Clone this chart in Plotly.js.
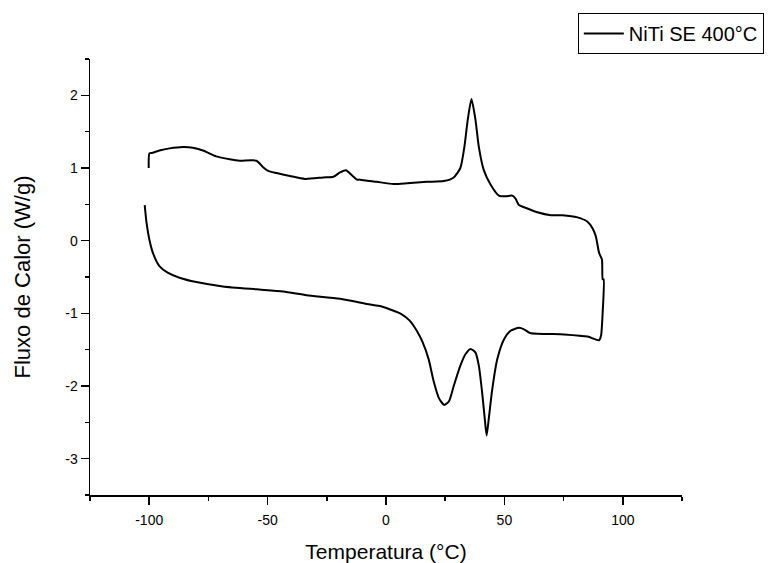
<!DOCTYPE html>
<html>
<head>
<meta charset="utf-8">
<script src="https://cdn.plot.ly/plotly-3.0.1.min.js"></script>
<style>html,body{margin:0;padding:0;background:#fff}#chart{width:777px;height:563px}</style>
</head>
<body>
<div id="chart"></div>
<script>
// Temperature (°C) along the measured loop: heating branch (bottom) then cooling branch (top)
const temperature = [
  -101.9, -101.1, -99.9, -98.2, -95.7, -92.2, -87.2, -80.1, -68.9, -54.7, -43.4, -33.5, -19.4, -6.7, -2.5, 2.0, 6.5, 10.0, 13.0, 15.5, 18.0, 20.1, 22.4, 24.6, 26.6, 28.6, 31.4, 33.6, 35.7, 37.8, 39.2, 40.6, 41.7, 42.5, 43.4, 44.9, 47.0, 49.8, 52.6, 56.1, 58.3, 60.8, 75.2, 85.1, 90.0, 90.8, 91.5, 91.9,
  91.5, 91.2, 90.0, 88.6, 87.2, 85.1, 80.9, 74.5, 69.6, 63.9, 58.3, 56.1, 54.7, 53.3, 50.5, 47.7, 44.2, 41.3, 39.2, 37.8, 36.1, 34.5, 33.1, 31.4, 28.6, 24.4, 17.3, 8.9, 3.2, -3.9, -10.9, -12.3, -14.4, -16.9, -19.4, -22.2, -26.5, -34.2, -40.6, -46.2, -49.8, -51.9, -54.7, -61.8, -66.0, -71.7, -77.3, -81.6, -85.8, -91.4, -95.7, -98.5, -99.9, -100.2
];
// Heat flow (W/g)
const heatFlow = [
  0.49, 0.24, 0.01, -0.19, -0.35, -0.44, -0.51, -0.57, -0.63, -0.67, -0.70, -0.75, -0.80, -0.88, -0.90, -0.95, -1.01, -1.10, -1.24, -1.40, -1.63, -1.93, -2.17, -2.26, -2.21, -2.00, -1.72, -1.56, -1.49, -1.54, -1.72, -2.09, -2.45, -2.68, -2.45, -2.04, -1.63, -1.36, -1.24, -1.20, -1.22, -1.27, -1.29, -1.32, -1.37, -1.31, -0.99, -0.53,
  -0.53, -0.26, -0.17, 0.06, 0.17, 0.26, 0.32, 0.35, 0.35, 0.39, 0.46, 0.49, 0.58, 0.62, 0.61, 0.62, 0.77, 0.97, 1.29, 1.66, 1.95, 1.66, 1.29, 1.00, 0.87, 0.82, 0.81, 0.79, 0.78, 0.81, 0.84, 0.84, 0.90, 0.97, 0.94, 0.88, 0.87, 0.85, 0.89, 0.93, 0.96, 1.01, 1.10, 1.10, 1.12, 1.16, 1.24, 1.28, 1.29, 1.27, 1.24, 1.21, 1.20, 1.00
];
const seriesName = 'NiTi SE 400°C';
const xTickVals = [-100, -50, 0, 50, 100];
const xTickText = ['-100', '-50', '0', '50', '100'];
const yTickVals = [-3, -2, -1, 0, 1, 2];
const yTickText = ['-3', '-2', '-1', '0', '1', '2'];
const xMinorVals = [-125, -75, -25, 25, 75, 125];
const yMinorVals = [-3.5, -2.5, -1.5, -0.5, 0.5, 1.5, 2.5];

const font = 'Arial, "Liberation Sans", sans-serif';
const axisCommon = {
  showline: true, linecolor: '#000', linewidth: 1.5,
  ticks: 'outside', ticklen: 8, tickwidth: 1.5, tickcolor: '#000',
  showgrid: false, zeroline: false, mirror: false,
  tickfont: {family: font, size: 14, color: '#000'},
  tickmode: 'array'
};
const layout = {
  width: 777, height: 563,
  margin: {l: 90, r: 95, t: 59, b: 68},
  paper_bgcolor: '#fff', plot_bgcolor: '#fff',
  showlegend: true,
  legend: {
    x: 0.824, y: 1.1055, xanchor: 'left', yanchor: 'top',
    bordercolor: '#000', borderwidth: 1, bgcolor: '#fff',
    font: {family: font, size: 20, color: '#000'},
    itemwidth: 40, tracegroupgap: 0
  },
  xaxis: Object.assign({}, axisCommon, {
    range: [-125, 125],
    tickvals: xTickVals, ticktext: xTickText,
    ticklabelstandoff: 4,
    minor: {tickmode: 'array', tickvals: xMinorVals, ticks: 'outside', ticklen: 4, tickwidth: 1.5, tickcolor: '#000', showgrid: false},
    title: {text: 'Temperatura (°C)', font: {family: font, size: 21, color: '#000'}, standoff: 18}
  }),
  yaxis: Object.assign({}, axisCommon, {
    range: [-3.5, 2.5],
    tickvals: yTickVals, ticktext: yTickText,
    minor: {tickmode: 'array', tickvals: yMinorVals, ticks: 'outside', ticklen: 4, tickwidth: 1.5, tickcolor: '#000', showgrid: false},
    title: {text: 'Fluxo de Calor (W/g)', font: {family: font, size: 22, color: '#000'}, standoff: 28}
  })
};
const data = [{
  x: temperature, y: heatFlow, type: 'scatter', mode: 'lines',
  name: seriesName, line: {color: '#000', width: 2, shape: 'spline', smoothing: 0.6}
}];
Plotly.newPlot('chart', data, layout, {displayModeBar: false, staticPlot: true});
</script>
</body>
</html>
